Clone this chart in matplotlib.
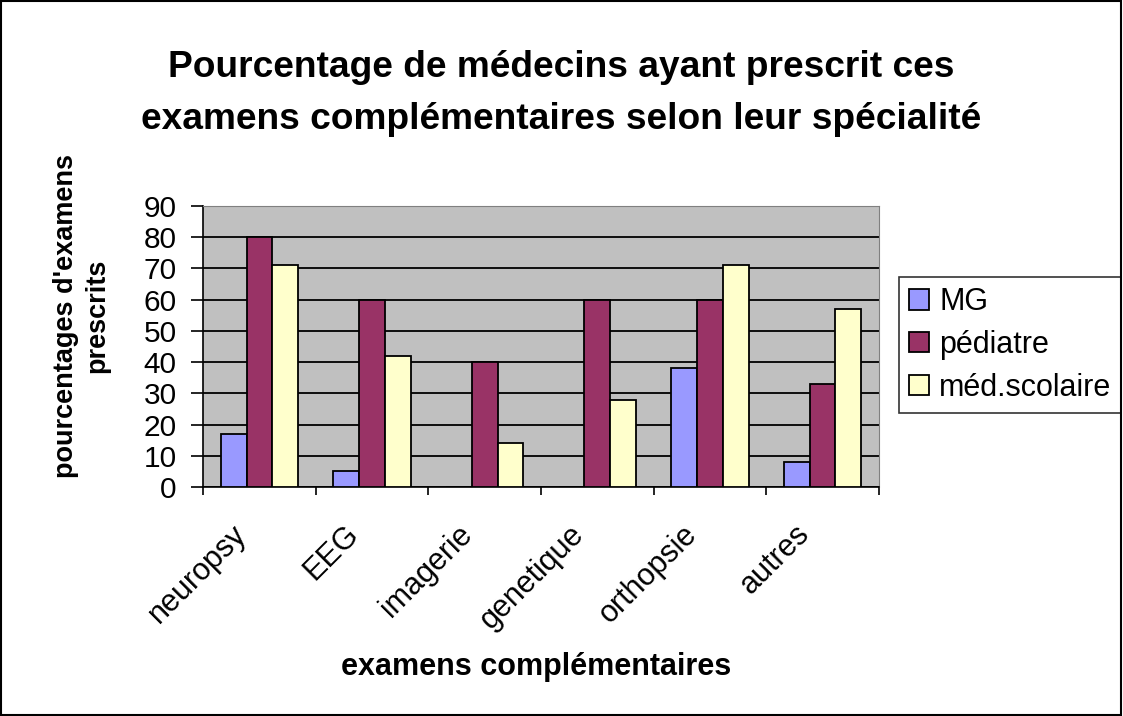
import matplotlib
matplotlib.use("Agg")
import matplotlib.pyplot as plt
import matplotlib.transforms as mtransforms
import numpy as np
from matplotlib.patches import Rectangle

plt.rcParams['font.family'] = ['Liberation Sans', 'DejaVu Sans']

categories = ["neuropsy", "EEG", "imagerie", "genetique", "orthopsie", "autres"]
series_names = ["MG", "pédiatre", "méd.scolaire"]
mg = [17, 5, 0, 0, 38, 8]
pediatre = [80, 60, 40, 60, 60, 33]
med_scolaire = [71, 42, 14, 28, 71, 57]
colors = ["#9999FF", "#993366", "#FFFFCC"]
yticks = [0, 10, 20, 30, 40, 50, 60, 70, 80, 90]

fig = plt.figure(figsize=(11.23, 7.16), dpi=100)
fig.patches.append(Rectangle((0.001, 0.001), 0.997, 0.997, transform=fig.transFigure,
                             fill=False, edgecolor="black", linewidth=1.5))
ax = fig.add_axes([0.1808, 0.3198, 0.6019, 0.3925])
ax.set_facecolor("#C0C0C0")

x = np.arange(len(categories))
w = 0.228
for i, (vals, name) in enumerate(zip([mg, pediatre, med_scolaire], series_names)):
    ax.bar(x + (i - 1) * w, vals, width=w, color=colors[i], edgecolor="black",
           linewidth=1.3, label=name, zorder=3)

ax.set_xlim(-0.5, len(categories) - 0.5)
ax.set_ylim(0, 90)
ax.set_yticks(yticks)
ax.set_yticklabels([str(v) for v in yticks], fontsize=21.5)
ax.yaxis.grid(True, color="black", linewidth=1.3, zorder=1)
ax.set_axisbelow(True)
ax.tick_params(axis='y', direction='out', length=8.5, width=1.2, pad=10.5)

ax.set_xticks(x)
ax.set_xticklabels(categories, rotation=45, ha='right', va='top', rotation_mode='anchor', fontsize=22)
ax.tick_params(axis='x', length=0, pad=23)
offset = mtransforms.ScaledTranslation(-28 / 100, 0, fig.dpi_scale_trans)
for lbl in ax.get_xticklabels():
    lbl.set_transform(lbl.get_transform() + offset)
ax.set_xticks(np.arange(-0.5, len(categories)), minor=True)
ax.tick_params(axis='x', which='minor', direction='out', length=6, width=1.2)

for s in ["top", "right"]:
    ax.spines[s].set_color("#808080")
for s in ["left", "bottom"]:
    ax.spines[s].set_color("black")
    ax.spines[s].set_linewidth(1.2)

fig.text(0.4996, 1 - 77 / 716, "Pourcentage de médecins ayant prescrit ces",
         ha='center', va='baseline', fontsize=26.7, fontweight='bold')
fig.text(0.4996, 1 - 129 / 716, "examens complémentaires selon leur spécialité",
         ha='center', va='baseline', fontsize=26.7, fontweight='bold')
fig.text(82 / 1123, 1 - 316 / 716, "pourcentages d'examens\nprescrits", rotation=90,
         ha='center', va='center', multialignment='center', fontsize=19.5, fontweight='bold',
         linespacing=1.25)
fig.text(536 / 1123, 1 - 675 / 716, "examens complémentaires", ha='center', va='baseline',
         fontsize=22, fontweight='bold')

leg = ax.legend(loc='upper left', bbox_to_anchor=(899 / 1123, 1 - 277 / 716), bbox_transform=fig.transFigure,
                fontsize=22, frameon=True, fancybox=False, edgecolor='black',
                handlelength=0.65, handleheight=0.65, handletextpad=0.33, borderpad=0.33,
                labelspacing=0.42, borderaxespad=0)
leg.get_frame().set_linewidth(1.2)

fig.savefig("out.png", dpi=100)
